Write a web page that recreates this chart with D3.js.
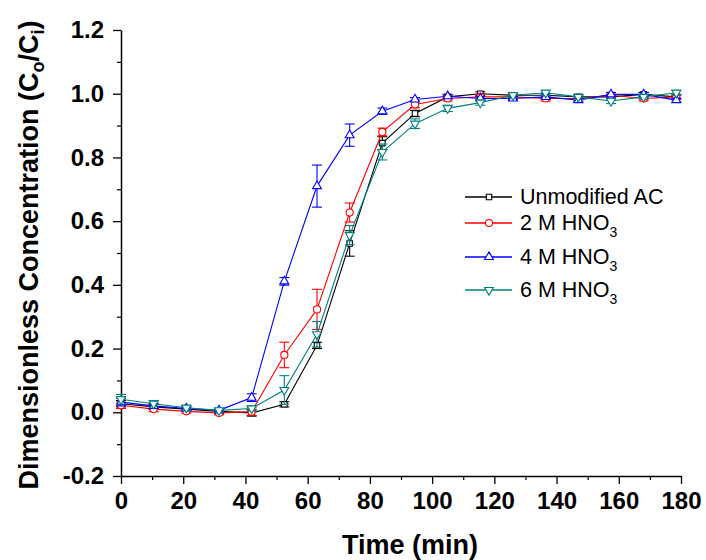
<!DOCTYPE html>
<html>
<head>
<meta charset="utf-8">
<script src="https://cdn.jsdelivr.net/npm/d3@7"></script>
<style>
  body { margin: 0; background: #fff; }
  svg text { font-family: "Liberation Sans", Arial, sans-serif; }
</style>
</head>
<body>
<div id="chart"></div>
<script>
// breakthrough data
const times = [0, 10.5, 21, 31.5, 42, 52.5, 63, 73.5, 84, 94.5, 105, 115.5, 126, 136.5, 147, 157.5, 168, 178.5];

const unmodified = [0.027, 0.017, 0.010, 0.003, -0.002, 0.025, 0.210, 0.530, 0.845, 0.938, 0.990, 1.000, 0.995, 0.995, 0.990, 0.990, 0.998, 0.990];
const hno3_2M    = [0.022, 0.010, 0.003, -0.002, 0.002, 0.180, 0.323, 0.627, 0.880, 0.966, 0.985, 0.990, 0.990, 0.985, 0.985, 0.995, 0.985, 0.990];
const hno3_4M    = [0.032, 0.020, 0.012, 0.006, 0.046, 0.411, 0.710, 0.870, 0.945, 0.982, 0.992, 0.985, 0.985, 0.990, 0.980, 0.998, 0.998, 0.980];
const hno3_6M    = [0.041, 0.027, 0.014, 0.006, 0.012, 0.070, 0.245, 0.556, 0.817, 0.906, 0.954, 0.972, 0.995, 1.003, 0.990, 0.977, 0.990, 1.003];

const errUnmod = [0.010, 0.008, 0.006, 0.006, 0.010, 0.008, 0.010, 0.040, 0.020, 0.010, 0.006, 0.006, 0.006, 0.006, 0.006, 0.006, 0.006, 0.006];
const err2M    = [0.010, 0.008, 0.006, 0.006, 0.012, 0.040, 0.063, 0.030, 0.012, 0.010, 0.008, 0.008, 0.008, 0.008, 0.008, 0.008, 0.008, 0.008];
const err4M    = [0.012, 0.008, 0.006, 0.006, 0.012, 0.012, 0.066, 0.035, 0.010, 0.006, 0.006, 0.006, 0.006, 0.006, 0.006, 0.006, 0.006, 0.006];
const err6M    = [0.015, 0.010, 0.008, 0.006, 0.008, 0.045, 0.040, 0.030, 0.025, 0.015, 0.010, 0.008, 0.008, 0.008, 0.008, 0.008, 0.008, 0.008];

const xTicks = [0, 20, 40, 60, 80, 100, 120, 140, 160, 180];
const yTicks = [-0.2, 0.0, 0.2, 0.4, 0.6, 0.8, 1.0, 1.2];

const series = [
  {name: "Unmodified AC", sub: null, color: "#000000", symbol: d3.symbolSquare, size: 30, rot: 0, vals: unmodified, err: errUnmod},
  {name: "2 M HNO", sub: "3", color: "#ff0000", symbol: d3.symbolCircle, size: 40, rot: 0, vals: hno3_2M, err: err2M},
  {name: "4 M HNO", sub: "3", color: "#0000ff", symbol: d3.symbolTriangle, size: 34, rot: 0, vals: hno3_4M, err: err4M},
  {name: "6 M HNO", sub: "3", color: "#008080", symbol: d3.symbolTriangle, size: 34, rot: 180, vals: hno3_6M, err: err6M}
];

const width = 706, height = 560;
const plotL = 121, plotR = 681, plotT = 30, plotB = 476;

const svg = d3.select("#chart").append("svg")
  .attr("width", width)
  .attr("height", height);

const x = d3.scaleLinear().domain([0, 180]).range([plotL, plotR]);
const y = d3.scaleLinear().domain([-0.2, 1.2]).range([plotB, plotT]);

// minor ticks first
svg.append("g")
  .attr("transform", `translate(0,${plotB})`)
  .call(d3.axisBottom(x).tickValues(d3.range(10, 180, 20)).tickSize(4).tickFormat(""))
  .call(g => g.select(".domain").remove())
  .selectAll("line").attr("stroke-width", 1.2);

svg.append("g")
  .attr("transform", `translate(${plotL},0)`)
  .call(d3.axisLeft(y).tickValues([-0.1, 0.1, 0.3, 0.5, 0.7, 0.9, 1.1]).tickSize(4).tickFormat(""))
  .call(g => g.select(".domain").remove())
  .selectAll("line").attr("stroke-width", 1.2);

const xAxis = svg.append("g")
  .attr("transform", `translate(0,${plotB})`)
  .call(d3.axisBottom(x).tickValues(xTicks).tickSize(8).tickSizeOuter(0).tickPadding(7).tickFormat(d3.format("d")));

const yAxis = svg.append("g")
  .attr("transform", `translate(${plotL},0)`)
  .call(d3.axisLeft(y).tickValues(yTicks).tickSize(8).tickSizeOuter(0).tickPadding(9)
    .tickFormat(d => d3.format(".1f")(d).replace("\u2212", "-")));

[xAxis, yAxis].forEach(g => {
  g.select(".domain").attr("stroke-width", 1.5);
  g.selectAll(".tick line").attr("stroke-width", 1.3);
  g.selectAll(".tick text")
    .attr("font-size", 24)
    .attr("font-weight", "bold")
    .attr("fill", "#000");
});
xAxis.selectAll(".tick text").attr("dy", "0.75em");

// axis titles
svg.append("text")
  .attr("x", 410)
  .attr("y", 554)
  .attr("text-anchor", "middle")
  .attr("font-size", 27)
  .attr("font-weight", "bold")
  .text("Time (min)");

const yTitle = svg.append("text")
  .attr("transform", `translate(38,${(plotT + plotB) / 2 + 2}) rotate(-90)`)
  .attr("text-anchor", "middle")
  .attr("font-size", 27)
  .attr("font-weight", "bold");
yTitle.append("tspan").text("Dimensionless Concentration (C");
yTitle.append("tspan").attr("font-size", 18).attr("dy", 6).text("o");
yTitle.append("tspan").attr("dy", -6).text("/C");
yTitle.append("tspan").attr("font-size", 18).attr("dy", 6).text("i");
yTitle.append("tspan").attr("dy", -6).text(")");

// series
const line = d3.line()
  .x(d => x(d.t))
  .y(d => y(d.v));

series.forEach(s => {
  const pts = times.map((t, i) => ({t: t, v: s.vals[i], e: s.err[i]}));
  const g = svg.append("g");

  g.append("path")
    .datum(pts)
    .attr("d", line)
    .attr("fill", "none")
    .attr("stroke", s.color)
    .attr("stroke-width", 1.1);

  const eb = g.selectAll(".err")
    .data(pts)
    .enter()
    .append("g")
    .attr("stroke", s.color)
    .attr("stroke-width", 1.1);
  eb.append("line")
    .attr("x1", d => x(d.t)).attr("x2", d => x(d.t))
    .attr("y1", d => y(d.v - d.e)).attr("y2", d => y(d.v + d.e));
  eb.append("line")
    .attr("x1", d => x(d.t) - 5).attr("x2", d => x(d.t) + 5)
    .attr("y1", d => y(d.v + d.e)).attr("y2", d => y(d.v + d.e));
  eb.append("line")
    .attr("x1", d => x(d.t) - 5).attr("x2", d => x(d.t) + 5)
    .attr("y1", d => y(d.v - d.e)).attr("y2", d => y(d.v - d.e));

  g.selectAll(".mark")
    .data(pts)
    .enter()
    .append("path")
    .attr("d", d3.symbol().type(s.symbol).size(s.size))
    .attr("transform", d => `translate(${x(d.t)},${y(d.v)}) rotate(${s.rot})`)
    .attr("fill", "#fff")
    .attr("stroke", s.color)
    .attr("stroke-width", 1.1);
});

// legend
const legendY = [197, 223, 257, 290];
const legend = svg.append("g");
series.forEach((s, i) => {
  const row = legend.append("g").attr("transform", `translate(465,${legendY[i]})`);
  row.append("line")
    .attr("x1", 0).attr("x2", 47)
    .attr("stroke", s.color)
    .attr("stroke-width", 1.3);
  row.append("path")
    .attr("d", d3.symbol().type(s.symbol).size(s.size)())
    .attr("transform", `translate(24,0) rotate(${s.rot})`)
    .attr("fill", "#fff")
    .attr("stroke", s.color)
    .attr("stroke-width", 1.1);
  const t = row.append("text")
    .attr("x", 55)
    .attr("y", 7)
    .attr("font-size", 21.5)
    .attr("fill", "#000");
  t.append("tspan").text(s.name);
  if (s.sub) t.append("tspan").attr("font-size", 14).attr("dy", 7).text(s.sub);
});
</script>
</body>
</html>
